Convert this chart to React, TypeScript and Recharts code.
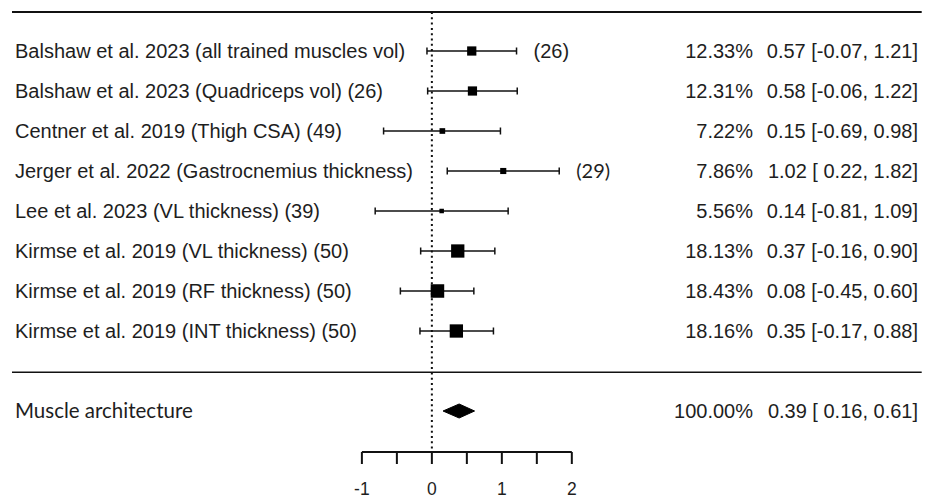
import { ComposedChart, Scatter, XAxis, YAxis, ErrorBar, ReferenceLine } from 'recharts'

// study rows, top to bottom
const studyLabels = [
  'Balshaw et al. 2023 (all trained muscles vol)',
  'Balshaw et al. 2023 (Quadriceps vol) (26)',
  'Centner et al. 2019 (Thigh CSA) (49)',
  'Jerger et al. 2022 (Gastrocnemius thickness)',
  'Lee et al. 2023 (VL thickness) (39)',
  'Kirmse et al. 2019 (VL thickness) (50)',
  'Kirmse et al. 2019 (RF thickness) (50)',
  'Kirmse et al. 2019 (INT thickness) (50)'
]
const sideNotes = ['(26)', '', '', '(29)', '', '', '', '']
const weights = [12.33, 12.31, 7.22, 7.86, 5.56, 18.13, 18.43, 18.16]
const estimates = [0.57, 0.58, 0.15, 1.02, 0.14, 0.37, 0.08, 0.35]
const lower = [-0.07, -0.06, -0.69, 0.22, -0.81, -0.16, -0.45, -0.17]
const upper = [1.21, 1.22, 0.98, 1.82, 1.09, 0.9, 0.6, 0.88]

const summaryLabel = 'Muscle architecture'
const summaryWeight = 100
const summaryEstimate = 0.39
const summaryLower = 0.16
const summaryUpper = 0.61

const xTicks = [-1, -0.5, 0, 0.5, 1, 1.5, 2]

// layout
const X_DOMAIN = [-6, 7.19]
const Y_DOMAIN = [-1.275, 10.025]
const TOP_ROW = -0.975
const SEP_ROW = 8.03
const SUMMARY_ROW = 9
const LINE_END = 7.0
const DIAMOND_HALF = 0.175
const LABEL_X = 15
const PCT_X = 753
const CI_X = 918
const ARIAL = '"Liberation Sans", Arial, sans-serif'
const LATO = 'Lato, sans-serif'
const TEXT = '#1e1e1e'
const noteFonts: Record<string, string> = { '(26)': ARIAL, '(29)': LATO }

const fmtLow = (v: number) => (v < 0 ? v.toFixed(2) : ' ' + v.toFixed(2))
const ciText = (e: number, lo: number, hi: number) => `${e.toFixed(2)} [${fmtLow(lo)}, ${hi.toFixed(2)}]`

const minW = Math.min(...weights)
const maxW = Math.max(...weights)

const studies = studyLabels.map((label, i) => ({
  label,
  x: estimates[i],
  y: i,
  err: [estimates[i] - lower[i], upper[i] - estimates[i]],
  pct: weights[i].toFixed(2) + '%',
  ci: ciText(estimates[i], lower[i], upper[i]),
  psize: 0.5 + (weights[i] - minW) / (maxW - minW)
}))

const notes = sideNotes
  .map((note, i) => ({ note, x: upper[i], y: i }))
  .filter((d) => d.note)

const diamond = [
  { x: summaryLower, y: SUMMARY_ROW },
  { x: summaryEstimate, y: SUMMARY_ROW - DIAMOND_HALF },
  { x: summaryUpper, y: SUMMARY_ROW },
  { x: summaryEstimate, y: SUMMARY_ROW + DIAMOND_HALF },
  { x: summaryLower, y: SUMMARY_ROW }
]

const summaryRow = [
  {
    x: summaryEstimate,
    y: SUMMARY_ROW,
    pct: summaryWeight.toFixed(2) + '%',
    ci: ciText(summaryEstimate, summaryLower, summaryUpper)
  }
]

const StudyMark = (props: any) => {
  const { cx, cy, payload } = props
  const s = 9 * payload.psize
  return (
    <g>
      <rect x={cx - s / 2} y={cy - s / 2} width={s} height={s} fill="#000" />
      <text x={LABEL_X} y={cy} dy="0.36em" fontFamily={ARIAL} fontSize={20} fill={TEXT}>
        {payload.label}
      </text>
      <text x={PCT_X} y={cy} dy="0.36em" textAnchor="end" fontFamily={ARIAL} fontSize={20} fill={TEXT}>
        {payload.pct}
      </text>
      <text x={CI_X} y={cy} dy="0.36em" textAnchor="end" fontFamily={ARIAL} fontSize={20} fill={TEXT} style={{ whiteSpace: 'pre' }}>
        {payload.ci}
      </text>
    </g>
  )
}

const NoteMark = (props: any) => {
  const { cx, cy, payload } = props
  return (
    <text x={cx + 17} y={cy} dy="0.36em" fontFamily={noteFonts[payload.note]} fontSize={20} fill={TEXT}>
      {payload.note}
    </text>
  )
}

const SummaryText = (props: any) => {
  const { cy, payload } = props
  return (
    <g>
      <text x={LABEL_X} y={cy} dy="0.36em" fontFamily={LATO} fontSize={20.5} fill={TEXT}>
        {summaryLabel}
      </text>
      <text x={PCT_X} y={cy} dy="0.36em" textAnchor="end" fontFamily={ARIAL} fontSize={20} fill={TEXT}>
        {payload.pct}
      </text>
      <text x={CI_X} y={cy} dy="0.36em" textAnchor="end" fontFamily={ARIAL} fontSize={20} fill={TEXT} style={{ whiteSpace: 'pre' }}>
        {payload.ci}
      </text>
    </g>
  )
}

const AxisTick = (props: any) => {
  const { x, y, payload } = props
  if (!Number.isInteger(payload.value)) return <g />
  return (
    <text x={x} y={y + 29} textAnchor="middle" fontFamily={ARIAL} fontSize={17.5} fill={TEXT}>
      {payload.value}
    </text>
  )
}

export default function App() {
  return (
    <div style={{ position: 'absolute', left: 0, top: 0, background: '#fff' }}>
      <ComposedChart width={935} height={499} margin={{ top: 0, right: 0, left: 12, bottom: 0 }}>
        <XAxis
          type="number"
          dataKey="x"
          domain={X_DOMAIN}
          ticks={xTicks}
          interval={0}
          allowDataOverflow
          axisLine={false}
          tickSize={12}
          tickLine={{ stroke: '#111', strokeWidth: 2 }}
          tick={<AxisTick />}
          height={47}
        />
        <YAxis type="number" dataKey="y" domain={Y_DOMAIN} reversed hide allowDataOverflow />
        <ReferenceLine
          segment={[{ x: X_DOMAIN[0], y: TOP_ROW }, { x: LINE_END, y: TOP_ROW }]}
          stroke="#111"
          strokeWidth={2}
          ifOverflow="visible"
        />
        <ReferenceLine
          segment={[{ x: X_DOMAIN[0], y: SEP_ROW }, { x: LINE_END, y: SEP_ROW }]}
          stroke="#111"
          strokeWidth={1.6}
          ifOverflow="visible"
        />
        <ReferenceLine
          segment={[{ x: 0, y: TOP_ROW }, { x: 0, y: Y_DOMAIN[1] }]}
          stroke="#111"
          strokeWidth={2}
          strokeDasharray="2 3.3"
          ifOverflow="visible"
        />
        <ReferenceLine
          segment={[{ x: xTicks[0], y: Y_DOMAIN[1] }, { x: xTicks[xTicks.length - 1], y: Y_DOMAIN[1] }]}
          stroke="#111"
          strokeWidth={2}
          ifOverflow="visible"
        />
        <Scatter data={studies} shape={<StudyMark />} isAnimationActive={false}>
          <ErrorBar dataKey="err" direction="x" width={3.5} stroke="#111" strokeWidth={1.5} />
        </Scatter>
        <Scatter data={notes} shape={<NoteMark />} isAnimationActive={false} />
        <Scatter
          data={diamond}
          shape={() => <g />}
          line={{ fill: '#000', stroke: '#000', strokeWidth: 1 }}
          lineJointType="linear"
          isAnimationActive={false}
        />
        <Scatter data={summaryRow} shape={<SummaryText />} isAnimationActive={false} />
      </ComposedChart>
    </div>
  )
}
